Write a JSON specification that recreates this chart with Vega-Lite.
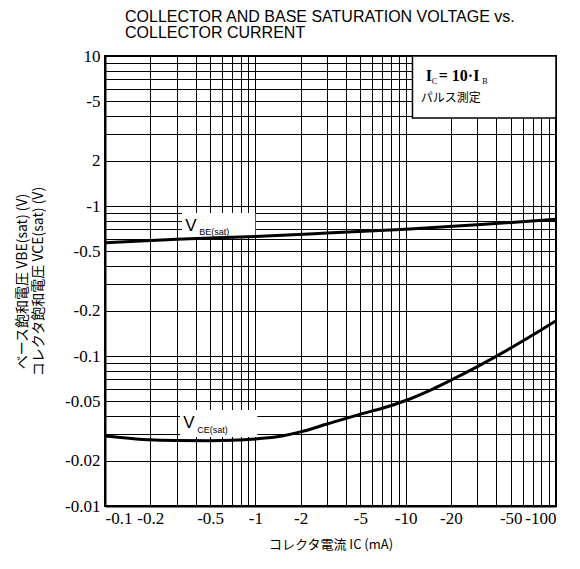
{
  "$schema": "https://vega.github.io/schema/vega-lite/v6.json",
  "width": 451,
  "height": 450,
  "autosize": {"type": "none"},
  "padding": {"left": 105, "top": 56, "right": 24, "bottom": 63},
  "background": "white",
  "title": {
    "text": ["COLLECTOR AND BASE SATURATION VOLTAGE vs.", "COLLECTOR CURRENT"],
    "anchor": "start",
    "frame": "group",
    "dx": 20,
    "offset": 6,
    "font": "Liberation Sans",
    "fontSize": 16,
    "fontWeight": "normal",
    "lineHeight": 16,
    "color": "#000"
  },
  "config": {
    "view": {"stroke": "#000", "strokeWidth": 2},
    "axis": {
      "domainColor": "#000",
      "domainWidth": 2,
      "gridColor": "#000",
      "gridWidth": 1,
      "gridOpacity": 1,
      "ticks": false,
      "labelColor": "#000",
      "labelFont": "Liberation Sans Narrow",
      "labelFontSize": 17,
      "labelOverlap": false,
      "titleColor": "#000",
      "titleFont": "Noto Sans CJK JP",
      "titleFontWeight": "normal",
      "titleFontSize": 13
    }
  },
  "datasets": {
    "curves": [
      {"series": "VBE", "ic": 0.1, "v": 0.569},
      {"series": "VBE", "ic": 0.3, "v": 0.600},
      {"series": "VBE", "ic": 1, "v": 0.627},
      {"series": "VBE", "ic": 3, "v": 0.660},
      {"series": "VBE", "ic": 10, "v": 0.700},
      {"series": "VBE", "ic": 30, "v": 0.750},
      {"series": "VBE", "ic": 100, "v": 0.815},
      {"series": "VCE", "ic": 0.1, "v": 0.0293},
      {"series": "VCE", "ic": 0.15, "v": 0.0282},
      {"series": "VCE", "ic": 0.2, "v": 0.0276},
      {"series": "VCE", "ic": 0.3, "v": 0.0273},
      {"series": "VCE", "ic": 0.5, "v": 0.0272},
      {"series": "VCE", "ic": 0.7, "v": 0.0274},
      {"series": "VCE", "ic": 1, "v": 0.0280},
      {"series": "VCE", "ic": 1.5, "v": 0.0293},
      {"series": "VCE", "ic": 2, "v": 0.0312},
      {"series": "VCE", "ic": 3, "v": 0.0352},
      {"series": "VCE", "ic": 5, "v": 0.0410},
      {"series": "VCE", "ic": 7, "v": 0.0448},
      {"series": "VCE", "ic": 10, "v": 0.0505},
      {"series": "VCE", "ic": 15, "v": 0.0600},
      {"series": "VCE", "ic": 20, "v": 0.0690},
      {"series": "VCE", "ic": 30, "v": 0.0850},
      {"series": "VCE", "ic": 50, "v": 0.1130},
      {"series": "VCE", "ic": 70, "v": 0.1380},
      {"series": "VCE", "ic": 100, "v": 0.1720}
    ],
    "legendBox": [
      {"ic": 11.1, "ic2": 100, "v": 3.86, "v2": 10}
    ],
    "labelBg": [
      {"ic": 0.326, "ic2": 1.0, "v": 0.612, "v2": 0.898},
      {"ic": 0.316, "ic2": 1.03, "v": 0.0288, "v2": 0.0437}
    ],
    "bigText": [
      {"ic": 0.3415, "v": 0.736, "label": "V"},
      {"ic": 0.331, "v": 0.0357, "label": "V"}
    ],
    "subText": [
      {"ic": 0.423, "v": 0.671, "label": "BE(sat)"},
      {"ic": 0.4105, "v": 0.0321, "label": "CE(sat)"}
    ],
    "legendMain": [
      {"ic": 13.59, "v": 7.36, "label": "I"},
      {"ic": 16.6, "v": 7.36, "label": "=  10·I"}
    ],
    "legendSub": [
      {"ic": 14.9, "v": 6.71, "label": "C"},
      {"ic": 32.3, "v": 6.71, "label": "B"}
    ],
    "legendJp": [
      {"ic": 12.6, "v": 5.25, "label": "パルス測定"}
    ]
  },
  "encoding": {
    "x": {
      "field": "ic",
      "type": "quantitative",
      "scale": {"type": "log", "domain": [0.1, 100], "nice": false, "zero": false},
      "axis": {
        "values": [0.1, 0.2, 0.3, 0.4, 0.5, 0.6, 0.7, 0.8, 0.9, 1, 2, 3, 4, 5, 6, 7, 8, 9, 10, 20, 30, 40, 50, 60, 70, 80, 90, 100],
        "grid": true,
        "labelExpr": "indexof([0.1, 0.2, 0.5, 1, 2, 5, 10, 20, 50, 100], datum.value) >= 0 ? '-' + datum.value : ''",
        "labelPadding": 4,
        "title": "コレクタ電流  IC (mA)",
        "titlePadding": 12
      }
    },
    "y": {
      "field": "v",
      "type": "quantitative",
      "scale": {"type": "log", "domain": [0.01, 10], "nice": false, "zero": false},
      "axis": {
        "values": [0.01, 0.02, 0.03, 0.04, 0.05, 0.06, 0.07, 0.08, 0.09, 0.1, 0.2, 0.3, 0.4, 0.5, 0.6, 0.7, 0.8, 0.9, 1, 2, 3, 4, 5, 6, 7, 8, 9, 10],
        "grid": true,
        "labelExpr": "datum.value == 10 ? '10' : datum.value == 2 ? '2' : indexof([0.01, 0.02, 0.05, 0.1, 0.2, 0.5, 1, 5], datum.value) >= 0 ? '-' + datum.value : ''",
        "labelPadding": 5,
        "title": ["ベース飽和電圧  VBE(sat)  (V)", "コレクタ飽和電圧  VCE(sat)  (V)"],
        "titlePadding": 19,
        "titleFontSize": 14,
        "titleLineHeight": 16
      }
    }
  },
  "layer": [
    {
      "data": {"name": "legendBox"},
      "mark": {"type": "rect", "fill": "white", "stroke": "#000", "strokeWidth": 1.5},
      "encoding": {"x2": {"field": "ic2"}, "y2": {"field": "v2"}}
    },
    {
      "data": {"name": "labelBg"},
      "mark": {"type": "rect", "fill": "white"},
      "encoding": {"x2": {"field": "ic2"}, "y2": {"field": "v2"}}
    },
    {
      "data": {"name": "curves"},
      "mark": {"type": "line", "color": "#000", "strokeWidth": 3, "interpolate": "monotone"},
      "encoding": {"detail": {"field": "series"}}
    },
    {
      "data": {"name": "bigText"},
      "mark": {"type": "text", "align": "left", "baseline": "middle", "font": "Liberation Sans", "fontSize": 17, "color": "#000"},
      "encoding": {"text": {"field": "label"}}
    },
    {
      "data": {"name": "subText"},
      "mark": {"type": "text", "align": "left", "baseline": "middle", "font": "Liberation Sans", "fontSize": 9, "color": "#000"},
      "encoding": {"text": {"field": "label"}}
    },
    {
      "data": {"name": "legendMain"},
      "mark": {"type": "text", "align": "left", "baseline": "middle", "font": "Liberation Serif", "fontWeight": "bold", "fontSize": 16, "color": "#000"},
      "encoding": {"text": {"field": "label"}}
    },
    {
      "data": {"name": "legendSub"},
      "mark": {"type": "text", "align": "left", "baseline": "middle", "font": "Liberation Serif", "fontSize": 8, "color": "#000"},
      "encoding": {"text": {"field": "label"}}
    },
    {
      "data": {"name": "legendJp"},
      "mark": {"type": "text", "align": "left", "baseline": "middle", "font": "Noto Sans CJK JP", "fontSize": 12, "color": "#000"},
      "encoding": {"text": {"field": "label"}}
    }
  ]
}
